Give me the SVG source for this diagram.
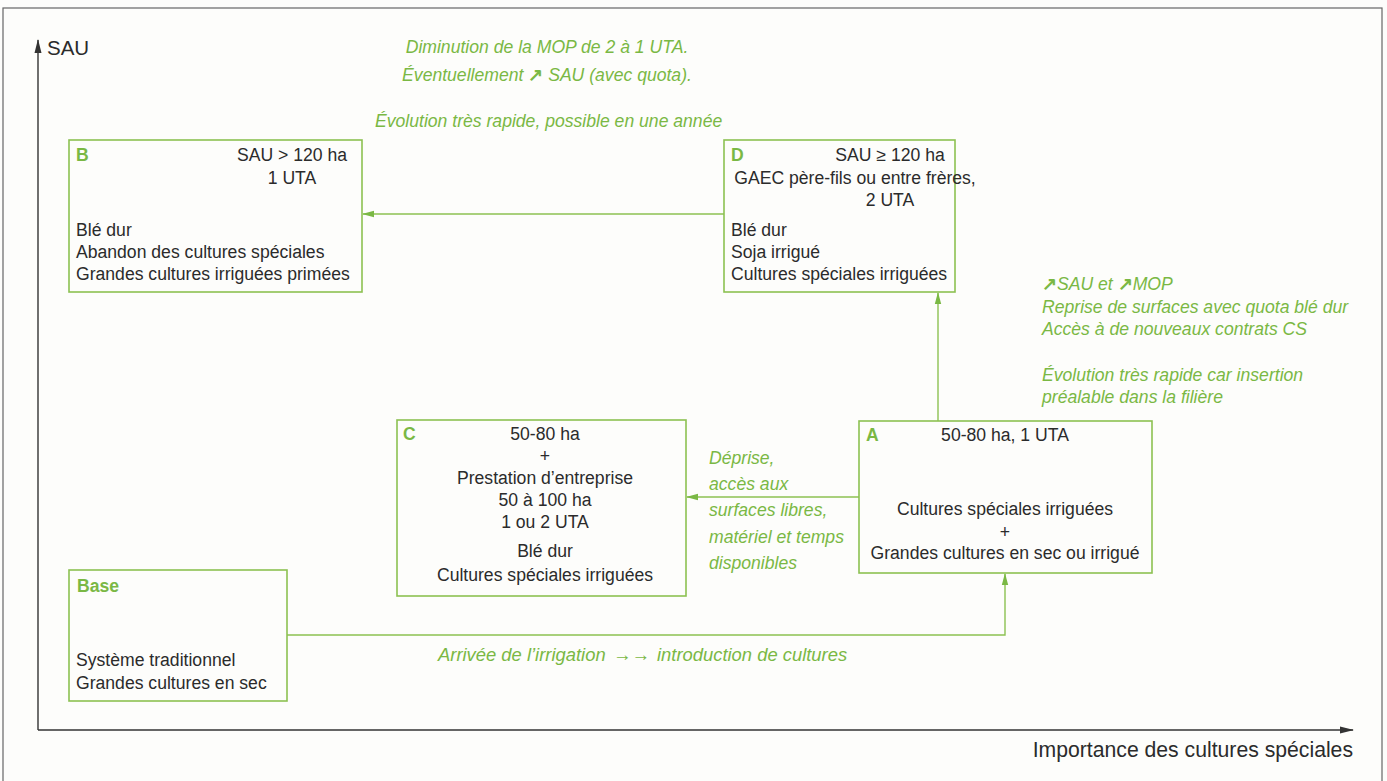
<svg xmlns="http://www.w3.org/2000/svg" width="1387" height="781" viewBox="0 0 1387 781">
<defs>
<style>
.bx{fill:none;stroke:#8cc152;stroke-width:1.6}
.ln{fill:none;stroke:#8cc152;stroke-width:1.4}
.ax{fill:none;stroke:#333;stroke-width:1.4}
.t{font-family:"Liberation Sans",Arial,sans-serif;font-size:17.6px;fill:#2b2b2b}
.g{font-family:"Liberation Sans",Arial,sans-serif;font-size:17.6px;fill:#7ab844;font-style:italic}
.lb{font-family:"Liberation Sans",Arial,sans-serif;font-size:17.6px;fill:#7ab844;font-weight:bold}
.c{text-anchor:middle}
.ar{font-style:normal;font-weight:bold}
</style>
<marker id="ga" markerWidth="12" markerHeight="8" refX="11" refY="4" orient="auto" markerUnits="userSpaceOnUse"><path d="M0,0.8 L12,4 L0,7.2 Z" fill="#7ab844"/></marker>
<marker id="ka" markerWidth="14" markerHeight="8" refX="13" refY="4" orient="auto" markerUnits="userSpaceOnUse"><path d="M0,0.5 L14,4 L0,7.5 Z" fill="#333"/></marker>
</defs>
<rect x="0" y="0" width="1387" height="781" fill="#fdfdfb"/>
<rect x="3" y="8" width="1379" height="780" fill="none" stroke="#666" stroke-width="1.2"/>
<g id="axes">
<line class="ax" x1="38" y1="730" x2="38" y2="40" marker-end="url(#ka)"/>
<line class="ax" x1="38" y1="730" x2="1353" y2="730" marker-end="url(#ka)"/>
<text class="t" x="47" y="55" style="font-size:20.5px">SAU</text>
<text class="t" x="1353" y="757" text-anchor="end" style="font-size:21.2px">Importance des cultures spéciales</text>
</g>
<g id="connectors">
<line class="ln" x1="724" y1="214" x2="363" y2="214" marker-end="url(#ga)"/>
<line class="ln" x1="938" y1="421" x2="938" y2="293" marker-end="url(#ga)"/>
<line class="ln" x1="859" y1="497" x2="687" y2="497" marker-end="url(#ga)"/>
<polyline class="ln" points="287,635 1005,635 1005,574" marker-end="url(#ga)"/>
</g>
<g id="labels">
<text class="g" x="547" y="53" text-anchor="middle">Diminution de la MOP de 2 à 1 UTA.</text>
<text class="g" x="547" y="81" text-anchor="middle">Éventuellement <tspan class="ar">↗</tspan> SAU (avec quota).</text>
<text class="g" x="375" y="127">Évolution très rapide, possible en une année</text>
<text class="g" x="1042" y="290"><tspan class="ar">↗</tspan>SAU et <tspan class="ar">↗</tspan>MOP</text>
<text class="g" x="1042" y="313">Reprise de surfaces avec quota blé dur</text>
<text class="g" x="1042" y="335">Accès à de nouveaux contrats CS</text>
<text class="g" x="1042" y="381">Évolution très rapide car insertion</text>
<text class="g" x="1042" y="403">préalable dans la filière</text>
<text class="g" x="709" y="464">Déprise,</text>
<text class="g" x="709" y="490">accès aux</text>
<text class="g" x="709" y="516">surfaces libres,</text>
<text class="g" x="709" y="543">matériel et temps</text>
<text class="g" x="709" y="569">disponibles</text>
<text class="g" y="661" style="font-size:18.4px"><tspan x="438">Arrivée de l’irrigation</tspan><tspan x="613" style="font-style:normal;font-weight:bold">→→</tspan><tspan x="657">introduction de cultures</tspan></text>
</g>
<g id="node-B">
<rect class="bx" x="69" y="140" width="293" height="152"/>
<text class="lb" x="76" y="161">B</text>
<text class="t c" x="292" y="161">SAU &gt; 120 ha</text>
<text class="t c" x="292" y="184">1 UTA</text>
<text class="t" x="76" y="236">Blé dur</text>
<text class="t" x="76" y="258">Abandon des cultures spéciales</text>
<text class="t" x="76" y="280">Grandes cultures irriguées primées</text>
</g>
<g id="node-D">
<rect class="bx" x="724" y="140" width="231" height="152"/>
<text class="lb" x="731" y="161">D</text>
<text class="t c" x="890" y="161">SAU ≥ 120 ha</text>
<text class="t c" x="855" y="184">GAEC père-fils ou entre frères,</text>
<text class="t c" x="890" y="206">2 UTA</text>
<text class="t" x="731" y="236">Blé dur</text>
<text class="t" x="731" y="258">Soja irrigué</text>
<text class="t" x="731" y="280">Cultures spéciales irriguées</text>
</g>
<g id="node-C">
<rect class="bx" x="397" y="420" width="289" height="176"/>
<text class="lb" x="403" y="440">C</text>
<text class="t c" x="545" y="440">50-80 ha</text>
<text class="t c" x="545" y="462">+</text>
<text class="t c" x="545" y="484">Prestation d’entreprise</text>
<text class="t c" x="545" y="506">50 à 100 ha</text>
<text class="t c" x="545" y="528">1 ou 2 UTA</text>
<text class="t c" x="545" y="557">Blé dur</text>
<text class="t c" x="545" y="581">Cultures spéciales irriguées</text>
</g>
<g id="node-A">
<rect class="bx" x="859" y="421" width="293" height="152"/>
<text class="lb" x="866" y="441">A</text>
<text class="t c" x="1005" y="441">50-80 ha, 1 UTA</text>
<text class="t c" x="1005" y="515">Cultures spéciales irriguées</text>
<text class="t c" x="1005" y="538">+</text>
<text class="t c" x="1005" y="559">Grandes cultures en sec ou irrigué</text>
</g>
<g id="node-Base">
<rect class="bx" x="69" y="570" width="218" height="131"/>
<text class="lb" x="77" y="592">Base</text>
<text class="t" x="76" y="666">Système traditionnel</text>
<text class="t" x="76" y="689">Grandes cultures en sec</text>
</g>
</svg>
